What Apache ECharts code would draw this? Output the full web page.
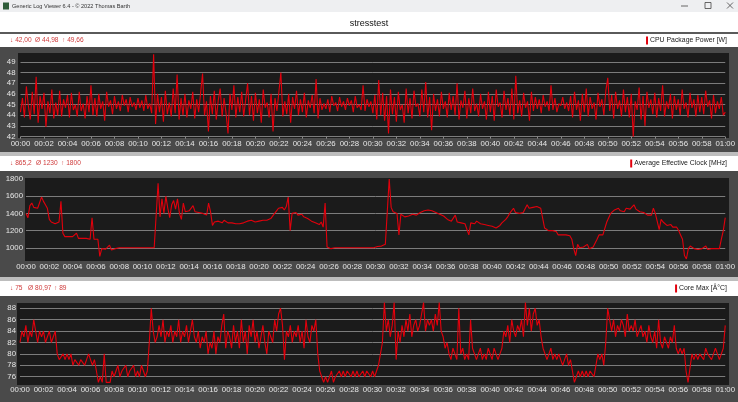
<!DOCTYPE html>
<html>
<head>
<meta charset="utf-8">
<title>stresstest</title>
<script src="https://cdn.jsdelivr.net/npm/echarts@6/dist/echarts.min.js"></script>
<style>
  html, body { margin: 0; padding: 0; background: #fff; }
  #chart { width: 738px; height: 402px; }
</style>
</head>
<body>
<div id="chart"></div>
<script>
// one sample every 10 s, 00:00 .. 01:00
const sampleSec = 10

// CPU Package Power [W], 6 samples per minute
const powerW = [
  44.3, 45.6, 43.8, 46.7, 44.9, 43.6,
  46.2, 44.1, 47.6, 43.3, 45.8, 44.6,
  46.1, 42.9, 45.3, 44.2, 46.4, 43.7,
  45.2, 44.0, 46.3, 43.9, 45.5, 44.7,
  45.9, 43.8, 46.1, 44.5, 45.0, 43.9,
  46.2, 44.4, 45.1, 43.7, 45.8, 44.3,
  46.8, 44.0, 45.6, 43.9, 46.0, 44.6,
  45.3, 43.5, 46.2, 44.8, 45.4, 44.1,
  45.8, 44.6, 45.3, 44.4, 45.9, 44.9,
  45.5, 44.3, 45.7, 44.8, 45.2, 44.5,
  45.6, 44.7, 45.4, 44.4, 45.9, 44.6,
  45.1, 44.2, 49.7, 43.2, 46.0, 44.3,
  45.7, 43.4, 46.3, 44.1, 45.2, 43.9,
  46.5, 44.2, 47.8, 43.6, 45.6, 44.0,
  46.0, 43.8, 45.4, 44.6, 46.2, 43.7,
  45.5, 44.3, 46.1, 47.9, 44.0, 45.3,
  42.5, 45.8, 44.1, 46.3, 43.6, 45.4,
  46.5, 43.9, 45.6, 44.2, 42.3, 46.0,
  44.5, 46.8, 43.8, 45.7, 44.3, 46.2,
  43.9, 45.4, 47.0, 44.0, 45.8, 43.5,
  46.1, 44.2, 45.5, 43.3, 46.4, 44.7,
  45.2, 43.8, 46.0, 42.5, 45.6, 44.4,
  46.2, 48.0, 43.9, 45.3, 44.1, 46.0,
  43.3, 45.7, 44.6, 46.3, 44.0, 45.5,
  44.3, 46.1, 43.8, 45.4, 44.7, 45.9,
  44.2, 47.4, 43.7, 45.6, 44.5, 45.1,
  44.6, 45.5, 44.3, 45.8, 44.9, 45.2,
  44.4, 45.7, 44.8, 45.3, 44.5, 45.6,
  44.9, 45.4, 44.3, 45.8, 44.7, 45.0,
  44.5, 46.8, 44.4, 45.5, 44.8, 45.3,
  44.2, 45.9, 43.6, 47.3, 44.0, 46.1,
  43.5, 45.8, 42.3, 46.4, 44.1, 45.7,
  43.4, 46.2, 44.5, 45.0, 43.3, 46.5,
  44.2, 45.6, 43.7, 46.3, 44.8, 45.1,
  43.9, 46.4, 44.3, 47.1, 43.8, 45.7,
  42.6, 46.0, 44.4, 45.5, 43.9, 46.2,
  44.6, 45.3, 43.8, 46.1, 44.5, 45.8,
  44.0, 47.0, 43.6, 45.4, 44.7, 46.3,
  43.7, 45.6, 44.2, 46.5, 44.4, 45.1,
  43.9, 46.0, 44.6, 45.3, 43.6, 46.2,
  44.3, 45.8, 43.5, 46.4, 44.8, 45.2,
  43.8, 46.3, 44.5, 45.6, 44.0, 46.5,
  43.6, 47.7, 44.2, 45.4, 43.9, 46.1,
  44.7, 45.3, 43.5, 46.2, 44.4, 45.7,
  44.6, 45.5, 44.2, 45.9, 44.8, 45.3,
  44.4, 46.8, 44.5, 45.6, 44.3, 45.1,
  44.9, 45.7, 44.6, 45.2, 44.4, 45.8,
  43.8, 46.2, 44.5, 45.4, 43.5, 46.0,
  44.3, 46.5, 43.9, 45.7, 44.6, 45.2,
  43.6, 46.1, 44.8, 45.5, 44.0, 46.3,
  47.5, 44.4, 45.9, 43.7, 46.2, 44.6,
  45.4, 43.9, 46.4, 44.3, 45.7, 43.8,
  46.0, 42.0, 45.3, 44.5, 46.6, 43.6,
  45.8, 43.0, 46.2, 44.7, 45.5, 44.1,
  46.1, 43.8, 45.6, 44.4, 46.8, 43.9,
  45.3, 44.6, 46.0, 43.7, 45.8, 44.5,
  45.5, 44.0, 46.4, 44.6, 45.2, 43.8,
  46.1, 44.7, 45.5, 43.9, 45.9, 44.3,
  45.7, 44.1, 46.3, 44.8, 45.4, 43.7,
  45.9, 44.2, 45.3, 44.6, 45.7, 44.0,
  44.3
]

// Average Effective Clock [MHz]
const clockMHz = [
  1400, 1350, 1490, 1520, 1470, 1450,
  1460, 1480, 1590, 1540, 1500, 1460,
  1330, 1300, 1290, 1280, 1290, 1300,
  1540, 1170, 1130, 1120, 1130, 1120,
  1130, 1130, 1170, 1110, 1100, 1110,
  1100, 1110, 1100, 1100, 1350, 1100,
  1100, 1100, 900, 990, 980, 985,
  980, 1030, 975, 985, 990, 1000,
  1000, 1000, 1000, 1000, 1000, 1000,
  1000, 1000, 1000, 1000, 1000, 1000,
  1000, 1000, 1000, 1000, 1000, 1000,
  1000, 1000, 1750, 1360, 1570, 1400,
  1600, 1460, 1350, 1500, 1550, 1450,
  1570, 1400, 1330, 1520, 1420, 1400,
  1430, 1410, 1490, 1420, 1400, 1410,
  1390, 1400, 1410, 1380, 1520, 1420,
  1260, 1300, 1290, 1310, 1300, 1290,
  1320, 1300, 1290, 1280, 1290, 1280,
  1280, 1290, 1280, 1280, 1290, 1300,
  1310, 1300, 1320, 1310, 1300, 1320,
  1310, 1330, 1320, 1300, 1320, 1310,
  1340, 1360, 1400, 1430, 1460, 1450,
  1470, 1440, 1480, 1590, 1200, 1400,
  1390, 1410, 1380, 1370, 1390, 1360,
  1350, 1340, 1330, 1310, 1320, 1290,
  1280, 1270, 1300, 1240, 1520, 1010,
  1000, 990, 1000, 1000, 995, 1000,
  1000, 1000, 1000, 1000, 1000, 1000,
  1000, 1000, 1000, 1000, 1000, 1000,
  1000, 1000, 1005, 1000, 1000, 1000,
  1010, 1015, 1020, 1020, 1030, 1040,
  1050, 1800, 1470, 1420, 1430, 1400,
  1150, 1390, 1370, 1360, 1380, 1370,
  1370, 1390, 1380, 1380, 1400, 1410,
  1410, 1430, 1440, 1440, 1420, 1430,
  1420, 1410, 1400, 1390, 1380, 1370,
  1350, 1330, 1320, 1310, 1330, 1380,
  1300, 1320, 1290, 1310, 1280, 1300,
  1150, 1290, 1300, 1280, 1310, 1290,
  1280, 1300, 1270, 1290, 1260, 1270,
  1250, 1240, 1230, 1210, 1260, 1290,
  1310, 1330, 1360, 1400, 1420, 1460,
  1410, 1430, 1400, 1420, 1410, 1430,
  1500, 1460, 1480, 1470, 1460, 1480,
  1470, 1460, 1480, 1230, 1210, 1200,
  1190, 1200, 1180, 1190, 1150, 1160,
  1150, 1140, 1150, 1160, 1140, 1100,
  990, 910, 1040, 1000, 990, 1010,
  1000, 1040, 990, 1000, 1010, 1000,
  1100, 1150, 1140, 1150, 1140, 1300,
  1320, 1400, 1410, 1440, 1420, 1460,
  1430, 1450, 1420, 1460, 1440, 1450,
  1470, 1500, 1450, 1440, 1420, 1430,
  1410, 1400, 1380, 1390, 1380, 1460,
  1400, 1420, 1210, 1330, 1300, 1280,
  1260, 1250, 1270, 1240, 1250, 1240,
  1200, 1150, 1100, 910, 870, 990,
  1020, 1000, 990, 1000, 980, 1000,
  990, 1000, 1020, 980, 1000, 990,
  1000, 990, 1010, 990, 1100, 1200,
  1350
]

// Core Max [°C]
const coreMaxC = [
  82, 84, 83, 85, 82, 84,
  83, 86, 84, 82, 84, 83,
  84, 82, 83, 84, 82, 83,
  84, 80, 79, 79, 80, 79,
  80, 79, 80, 78, 79, 79,
  78, 79, 79, 78, 79, 80,
  79, 78, 79, 77, 75, 76,
  75, 80, 75, 75, 75, 77,
  76, 77, 78, 76, 77, 77,
  78, 76, 77, 77, 78, 76,
  77, 76, 78, 77, 76, 77,
  82, 88, 84, 82, 83, 85,
  83, 86, 82, 84, 83, 85,
  82, 84, 83, 86, 82, 84,
  83, 85, 82, 84, 86, 83,
  82, 84, 81, 83, 82, 84,
  80, 82, 81, 84, 80, 83,
  82, 85, 87, 81, 84, 83,
  81, 85, 82, 84, 81, 86,
  82, 84, 80, 85, 83, 86,
  82, 84, 81, 83, 85, 82,
  80, 84, 83, 82, 86, 84,
  87, 88, 85, 79, 84, 83,
  85, 82, 84, 83, 85, 82,
  84, 81, 86, 83, 82, 85,
  84, 86, 80, 77, 76, 75,
  76, 75, 76, 77, 75, 76,
  76, 77, 76, 77, 76, 77,
  77, 76, 77, 76, 77, 76,
  76, 77, 76, 77, 77, 76,
  77, 76, 77, 78, 80, 82,
  89, 84, 86, 83, 85, 89,
  79, 84, 82, 85, 83, 86,
  84, 87, 83, 85, 86, 84,
  85, 87, 89, 84, 86, 85,
  86, 84, 87, 85, 89, 84,
  83, 81, 82, 80, 79, 81,
  80, 79, 88, 80, 81, 79,
  80, 79, 86, 81, 80, 79,
  80, 81, 79, 80, 79, 81,
  80, 79, 81, 80, 79, 80,
  81, 84, 83, 85, 82, 86,
  84, 83, 85, 84, 86, 83,
  89, 85, 88, 84, 87, 88,
  85, 86, 83, 81, 80, 79,
  80, 81, 79, 80, 79, 80,
  79, 78, 79, 80, 78, 79,
  77, 75, 76, 77, 76, 77,
  76, 77, 76, 77, 77, 76,
  78, 80, 79, 80, 78, 82,
  88, 88, 84, 86, 83, 85,
  84, 86, 85, 83, 87, 84,
  85, 84, 86, 83, 84, 85,
  83, 84, 82, 85, 83, 82,
  84, 81, 86, 82, 81, 83,
  82, 81, 83, 82, 85, 81,
  80, 81, 80, 81, 77, 75,
  75, 80, 79, 80, 79, 80,
  80, 79, 81, 80, 80, 79,
  80, 81, 80, 79, 80, 81,
  85
]

// min / avg / max strips and panel names
const powerStats = ['42,00', '44,98', '49,66']
const clockStats = ['865,2', '1230', '1800']
const coreStats = ['75', '80,97', '89']
const panelNames = ['CPU Package Power [W]', 'Average Effective Clock [MHz]', 'Core Max [Â°C]']
const chartTitle = 'stresstest'
const windowTitle = 'Generic Log Viewer 6.4 - © 2022 Thomas Barth'

// axis ranges [min, max, step]
const powerAxis = [42, 50, 1]
const clockAxis = [800, 1800, 200]
const coreAxis = [74, 90, 2]
const timeAxis = [0, 60, 2] // minutes

const FONT = '"Liberation Sans", "DejaVu Sans", sans-serif'
const RED = '#e2000c'
const STAT_RED = '#cf3b3b'

function pad(n) {
  return String(n).padStart(2, '0')
}

function timeLabel(min) {
  return pad(Math.floor(min / 60)) + ':' + pad(Math.round(min % 60))
}

function toPoints(values) {
  return values.map((v, i) => [i * sampleSec / 60, v])
}

const measureCtx = document.createElement('canvas').getContext('2d')
function textWidth(text, font) {
  measureCtx.font = font
  return measureCtx.measureText(text).width
}

// layout of the three panels (pixels)
const panels = [
  { strip: [34, 47], textY: 40.5, dark: [47, 152], plot: [18, 53, 711, 85], statX: [10, 35, 62],
    grid: { left: 20.5, right: 11.3, top: 51.1, height: 85.6 }, yMargin: 5, xMargin: 3,
    minLabel: true, minLine: true, axis: powerAxis, stats: powerStats },
  { strip: [156, 171], textY: 163.5, dark: [171, 277], plot: [25, 178, 704, 83], statX: [10, 36, 61],
    grid: { left: 26, right: 10.5, top: 179, height: 86 }, yMargin: 3, xMargin: -2,
    minLabel: false, minLine: false, maxLabel: true, axis: clockAxis, stats: clockStats },
  { strip: [281, 296], textY: 288.5, dark: [296, 402], plot: [17, 303, 712, 82], statX: [10, 28, 54],
    grid: { left: 20, right: 10.5, top: 296.9, height: 91.2 }, yMargin: 4, xMargin: -2,
    minLabel: false, minLine: false, axis: coreAxis, stats: coreStats }
]

const graphic = []
function rect(x, y, w, h, fill) {
  graphic.push({ type: 'rect', z: -100, silent: true, shape: { x, y, width: w, height: h }, style: { fill } })
}
function text(str, x, y, font, fill, align) {
  graphic.push({ type: 'text', z: 100, silent: true, x, y,
    style: { text: str, font, fill, textAlign: align || 'left', textVerticalAlign: 'middle' } })
}

// window frame and header
rect(0, 0, 738, 12, '#eeeff1')
rect(0, 12, 738, 20, '#ffffff')
rect(0, 32, 738, 2, '#5a5a5a')
rect(3, 2.5, 6, 7, '#2f5d3a')
text(windowTitle, 12, 6, '5.6px ' + FONT, '#333')
graphic.push({ type: 'line', z: 100, shape: { x1: 681, y1: 6, x2: 688, y2: 6 }, style: { stroke: '#444', lineWidth: 0.8 } })
graphic.push({ type: 'rect', z: 100, shape: { x: 705, y: 2.5, width: 6, height: 6 }, style: { fill: 'none', stroke: '#444', lineWidth: 0.8 } })
graphic.push({ type: 'line', z: 100, shape: { x1: 727, y1: 2.5, x2: 733, y2: 8.5 }, style: { stroke: '#444', lineWidth: 0.8 } })
graphic.push({ type: 'line', z: 100, shape: { x1: 733, y1: 2.5, x2: 727, y2: 8.5 }, style: { stroke: '#444', lineWidth: 0.8 } })
text(chartTitle, 369, 23.5, '9px ' + FONT, '#111', 'center')

const statFont = '6.6px ' + FONT
const nameFont = '6.9px ' + FONT
panels.forEach((p, i) => {
  rect(0, p.strip[0], 738, p.strip[1] - p.strip[0], '#ffffff')
  if (i > 0) rect(0, p.strip[0] - 4, 738, 4, '#bdbdbd')
  rect(0, p.dark[0], 738, p.dark[1] - p.dark[0], '#4a4a4a')
  rect(p.plot[0], p.plot[1], p.plot[2], p.plot[3], '#1b1b1b')
  text('↓ ' + p.stats[0], p.statX[0], p.textY, statFont, STAT_RED)
  text('Ø ' + p.stats[1], p.statX[1], p.textY, statFont, STAT_RED)
  text('↑ ' + p.stats[2], p.statX[2], p.textY, statFont, STAT_RED)
  const w = textWidth(panelNames[i], nameFont)
  text(panelNames[i], 727, p.textY, nameFont, '#1a1a1a', 'right')
  rect(727 - w - 4, p.textY - 4, 2, 8, RED)
})

const series = [powerW, clockMHz, coreMaxC]

const option = {
  animation: false,
  backgroundColor: 'transparent',
  graphic,
  grid: panels.map(p => Object.assign({ show: false }, p.grid)),
  xAxis: panels.map((p, i) => ({
    type: 'value',
    gridIndex: i,
    min: timeAxis[0],
    max: timeAxis[1],
    interval: timeAxis[2],
    axisLine: { show: false },
    axisTick: { show: true, length: 2, lineStyle: { color: '#8a8a8a' } },
    splitLine: { show: false },
    axisLabel: {
      margin: p.xMargin,
      color: '#e6e6e6',
      fontFamily: FONT,
      fontSize: 7.8,
      formatter: timeLabel
    }
  })),
  yAxis: panels.map((p, i) => ({
    type: 'value',
    gridIndex: i,
    min: p.axis[0],
    max: p.axis[1],
    interval: p.axis[2],
    axisLine: { show: false },
    axisTick: { show: false },
    splitLine: {
      show: true,
      showMinLine: p.minLine,
      showMaxLine: false,
      lineStyle: { color: '#7c7c7c', width: 1 }
    },
    axisLabel: {
      margin: p.yMargin,
      color: '#e6e6e6',
      fontFamily: FONT,
      fontSize: 7.8,
      showMinLabel: p.minLabel,
      showMaxLabel: !!p.maxLabel,
      formatter: v => String(v)
    }
  })),
  series: series.map((values, i) => ({
    type: 'line',
    xAxisIndex: i,
    yAxisIndex: i,
    data: toPoints(values),
    symbol: 'none',
    clip: true,
    lineStyle: { color: RED, width: 1.1 },
    itemStyle: { color: RED },
    z: 3
  }))
}

const chart = echarts.init(document.getElementById('chart'))
chart.setOption(option)
</script>
</body>
</html>
